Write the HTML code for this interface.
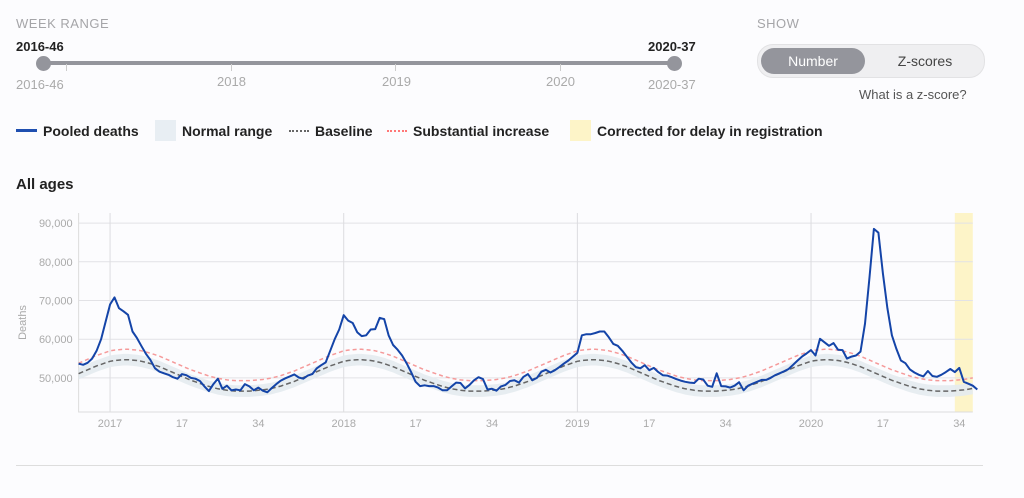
<!DOCTYPE html>
<html><head><meta charset="utf-8">
<style>
body{margin:0;width:1024px;height:498px;background:#fcfcfe;font-family:"Liberation Sans",sans-serif;position:relative;overflow:hidden}
.abs{position:absolute}
.cap{font-size:13px;color:#a5a5a8;letter-spacing:0.5px}
.lg{font-size:14px;font-weight:bold;color:#222}
</style></head><body>
<div class="abs cap" style="left:16px;top:16px">WEEK RANGE</div>
<div class="abs" style="left:16px;top:39px;font-size:13px;color:#222;font-weight:bold">2016-46</div>
<div class="abs" style="left:648px;top:39px;font-size:13px;color:#222;font-weight:bold">2020-37</div>
<div class="abs" style="left:43px;top:61px;width:632px;height:4px;background:#94959c"></div>
<div class="abs" style="left:66px;top:64px;width:1px;height:7px;background:#ccc"></div>
<div class="abs" style="left:231px;top:64px;width:1px;height:7px;background:#ccc"></div>
<div class="abs" style="left:395px;top:64px;width:1px;height:7px;background:#ccc"></div>
<div class="abs" style="left:560px;top:64px;width:1px;height:7px;background:#ccc"></div>
<div class="abs" style="left:36px;top:56px;width:15px;height:15px;border-radius:50%;background:#94959c"></div>
<div class="abs" style="left:667px;top:56px;width:15px;height:15px;border-radius:50%;background:#94959c"></div>
<div class="abs" style="left:16px;top:77px;font-size:13px;color:#aaa">2016-46</div>
<div class="abs" style="left:217px;top:74px;font-size:13px;color:#aaa">2018</div>
<div class="abs" style="left:382px;top:74px;font-size:13px;color:#aaa">2019</div>
<div class="abs" style="left:546px;top:74px;font-size:13px;color:#aaa">2020</div>
<div class="abs" style="left:648px;top:77px;font-size:13px;color:#aaa">2020-37</div>

<div class="abs cap" style="left:757px;top:16px">SHOW</div>
<div class="abs" style="left:757px;top:44px;width:226px;height:32px;border-radius:16px;background:#efeff1;border:1px solid #e2e2e4">
<div class="abs" style="left:3px;top:3px;width:104px;height:26px;border-radius:13px;background:#94959c;color:#fff;font-size:14px;text-align:center;line-height:26px">Number</div>
<div class="abs" style="left:112px;top:3px;width:110px;height:26px;color:#444;font-size:14px;text-align:center;line-height:26px">Z-scores</div>
</div>
<div class="abs" style="left:859px;top:87px;font-size:13px;color:#555">What is a z-score?</div>

<div class="abs" style="left:0;top:120px;width:1024px;height:22px">
<div class="abs" style="left:16px;top:9px;width:21px;height:3px;background:#1f4fb0"></div>
<div class="abs lg" style="left:43px;top:3px">Pooled deaths</div>
<div class="abs" style="left:155px;top:0;width:21px;height:21px;background:#e8eef3"></div>
<div class="abs lg" style="left:182px;top:3px">Normal range</div>
<div class="abs" style="left:289px;top:10px;width:20px;border-top:2px dotted #666"></div>
<div class="abs lg" style="left:315px;top:3px">Baseline</div>
<div class="abs" style="left:387px;top:10px;width:20px;border-top:2px dotted #f77"></div>
<div class="abs lg" style="left:413px;top:3px">Substantial increase</div>
<div class="abs" style="left:570px;top:0;width:21px;height:21px;background:#fdf4c8"></div>
<div class="abs lg" style="left:597px;top:3px">Corrected for delay in registration</div>
</div>

<div class="abs" style="left:16px;top:176px;font-size:15px;font-weight:bold;color:#222">All ages</div>
<div class="abs" style="left:16px;top:465px;width:967px;height:1px;background:#ddd"></div>

<svg class="abs" style="left:0;top:0" width="1024" height="498" id="chart"></svg>
<script>
const yTicks=[50000,60000,70000,80000,90000];
const xTickLabels=["2017","17","34","2018","17","34","2019","17","34","2020","17","34"];
const xTickIndex=[7,23,40,59,75,92,111,127,144,163,179,196];
const deaths=[
53700,53400,53900,55000,57000,60000,64500,
69000,70800,68000,67200,66300,62000,60300,58200,56200,54600,52500,51600,51200,50800,50200,49800,51000,50700,50000,49800,49200,47800,46600,48400,49800,47200,48000,46800,47000,46800,48400,47800,46800,47500,46700,46300,47400,48400,49300,49900,50400,50900,50100,49800,50600,51000,52500,53300,54000,57000,60000,62500,
66200,64800,64200,61800,60800,61000,62500,62600,65500,65200,61000,58500,57300,55800,53800,51500,49000,47900,48100,47900,47900,47500,46800,46800,47800,48800,48700,47300,48200,49400,50200,49700,47000,47200,46700,47800,48200,49200,49400,48800,50300,51000,49400,50000,51600,52100,51400,52000,52800,53700,54500,55500,56500,
61000,61300,61300,61600,62000,62000,60500,58800,58300,57000,55500,54000,52800,52500,53300,52000,52600,51500,50700,50600,50200,49700,49300,49000,48800,48700,49800,49600,48000,47700,51200,47900,47800,47500,48000,48900,46800,48000,48500,49000,49500,49500,50000,50700,51200,51700,52300,53400,54500,55500,56300,57200,
55800,60100,59200,58300,59000,57300,57200,55000,55500,55800,56800,64000,76000,88500,87500,77000,68000,61000,57500,54500,53800,52200,51400,50800,50400,51800,50500,50300,50800,51500,52300,51500,52600,49000,48500,48000,47000];
const baselineByWeek=[54300,54500,54600,54700,54700,54600,54500,54300,54000,53700,53300,52900,52400,51900,51400,50900,50400,49900,49400,49000,48600,48200,47800,47500,47200,47000,46800,46700,46600,46600,46600,46600,46700,46800,46900,47100,47300,47600,47900,48300,48700,49100,49600,50100,50600,51100,51600,52100,52600,53100,53500,53900];
const rangeHalfWidth=1500;
const substantialMargin=2700;
const delayStartIndex=195;

const X0=78.6,X1=972.8,N=200,YT=213,YB=412,VMIN=41200,VMAX=92600;
const sx=i=>X0+i*(X1-X0)/(N-1);
const sy=v=>YB-(v-VMIN)/(VMAX-VMIN)*(YB-YT);
const svg=document.getElementById('chart');
const NS='http://www.w3.org/2000/svg';
function mk(t,a){const e=document.createElementNS(NS,t);for(const k in a)e.setAttribute(k,a[k]);svg.appendChild(e);return e;}
function weekOf(i){ // week-of-year for index i (start 2016-46)
  if(i<7) return 45+i; return (i-7)%52;
}
const base=[];for(let i=0;i<N;i++)base.push(baselineByWeek[weekOf(i)]);
// delay band
let r=mk('rect',{x:sx(delayStartIndex),y:YT,width:X1-sx(delayStartIndex),height:YB-YT,fill:'#fdf4c8'});


// grid
yTicks.forEach(v=>{
  const l=mk('line',{x1:X0,x2:X1,y1:sy(v),y2:sy(v),stroke:'#e2e2e6','stroke-width':1});
  
  
  const t=mk('text',{x:X0-6,y:sy(v)+4,'text-anchor':'end','font-size':11,fill:'#aaa','font-family':'Liberation Sans'});
  t.textContent=v.toLocaleString('en-US');
  
  
});
xTickIndex.forEach((idx,k)=>{
  if(k%3==0){const l=mk('line',{x1:sx(idx),x2:sx(idx),y1:YT,y2:YB,stroke:'#dcdce0'});
  
  }
  const t=mk('text',{x:sx(idx),y:YB+15,'text-anchor':'middle','font-size':11,fill:'#aaa','font-family':'Liberation Sans'});
  t.textContent=xTickLabels[k];
  
  
});
const ax=mk('path',{d:`M${X0},${YT}V${YB}H${X1}`,fill:'none',stroke:'#ddd'});


const yl=mk('text',{x:0,y:0,transform:`translate(26,${(YT+YB)/2+10}) rotate(-90)`,'text-anchor':'middle','font-size':11,fill:'#aaa','font-family':'Liberation Sans'});
yl.textContent='Deaths';


// band
let up='',lo='';
for(let i=0;i<N;i++){up+=(i?'L':'M')+sx(i)+','+sy(base[i]+rangeHalfWidth);}
for(let i=N-1;i>=0;i--){lo+='L'+sx(i)+','+sy(base[i]-rangeHalfWidth);}
const band=mk('path',{d:up+lo+'Z',fill:'#e4ebf0',opacity:0.9});


function line(vals,attrs,name){let d='';vals.forEach((v,i)=>d+=(i?'L':'M')+sx(i).toFixed(1)+','+sy(v).toFixed(1));
  const p=mk('path',Object.assign({d,fill:'none'},attrs));
  
  }
line(base.map(v=>v+substantialMargin),{stroke:'#f59a9a','stroke-width':1.5,'stroke-dasharray':'4,3'},'substantial-increase-line');
line(base,{stroke:'#666','stroke-width':1.5,'stroke-dasharray':'5,3'},'baseline-line');
line(deaths,{stroke:'#1444a8','stroke-width':2,'stroke-linejoin':'round'},'pooled-deaths-line');
</script>
</body></html>
